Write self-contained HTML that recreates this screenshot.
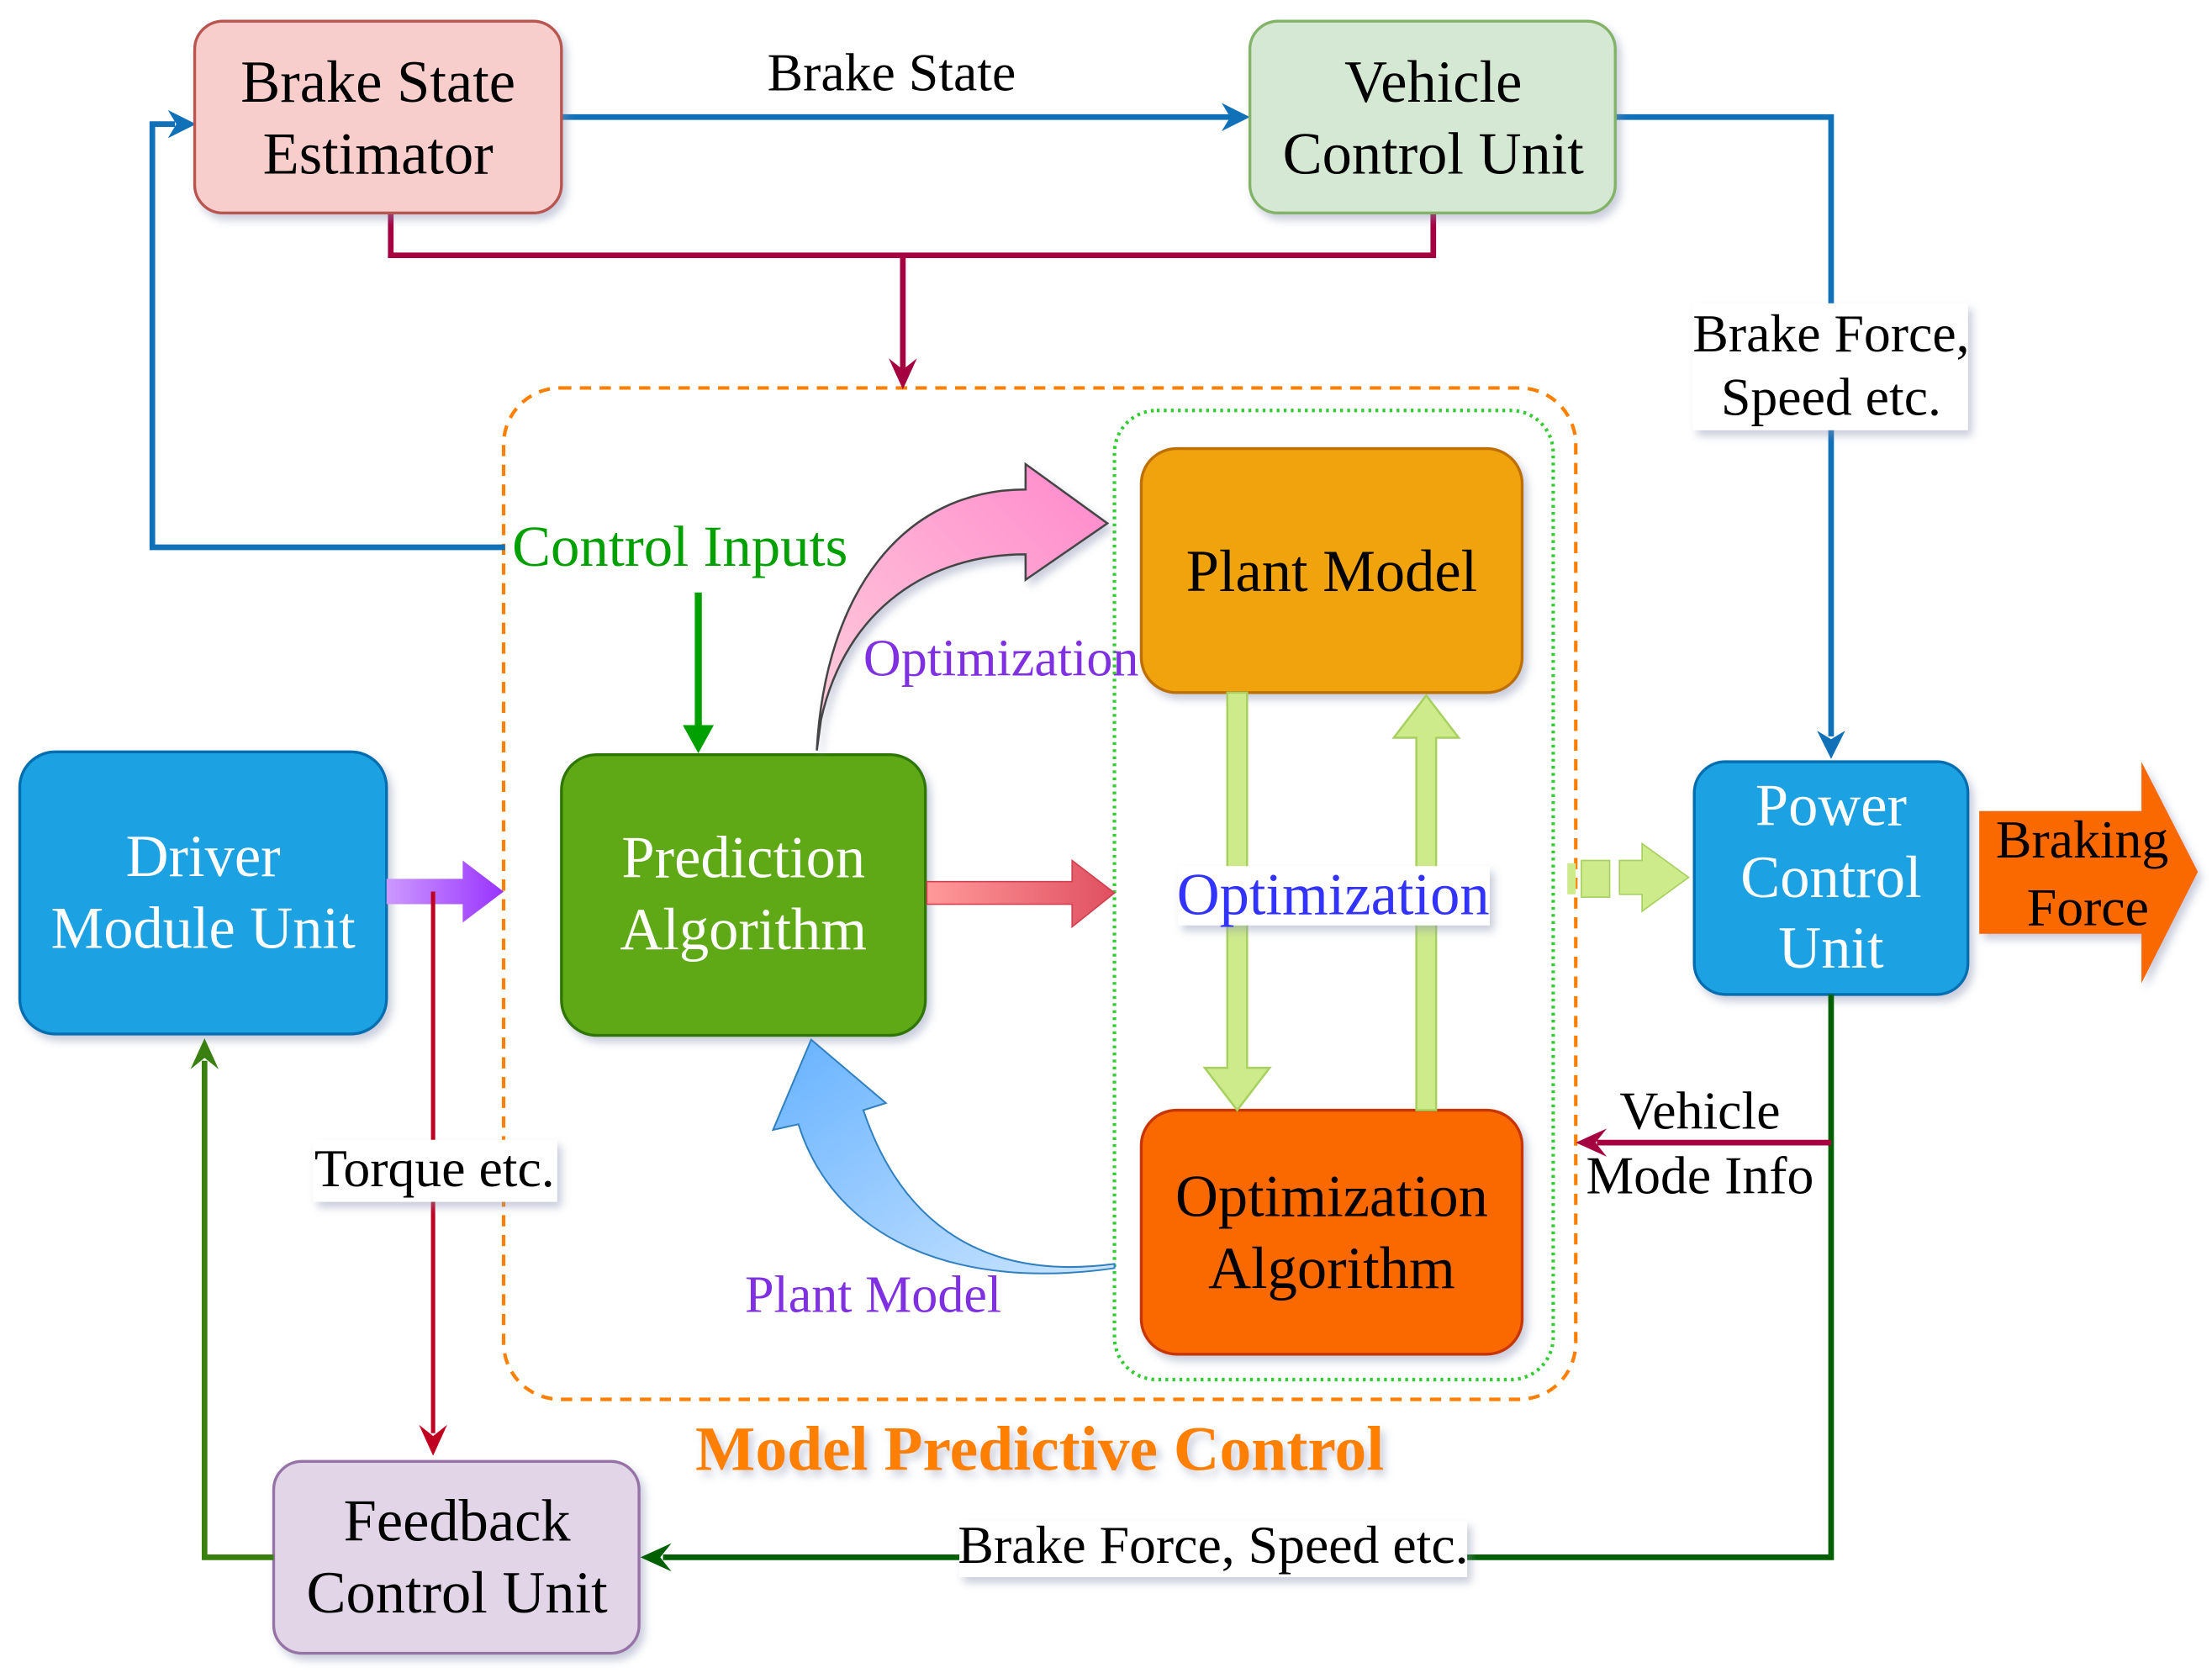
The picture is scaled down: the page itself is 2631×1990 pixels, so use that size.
<!DOCTYPE html>
<html><head><meta charset="utf-8"><style>
html,body{margin:0;padding:0;background:#fff;}
svg{display:block;}
text{font-family:"Liberation Serif",serif;}
</style></head><body>
<svg width="2631" height="1990" viewBox="0 0 1568 1186" preserveAspectRatio="none" xmlns="http://www.w3.org/2000/svg">
<defs>
<filter id="sh" x="-10%" y="-10%" width="130%" height="130%"><feDropShadow dx="3" dy="4" stdDeviation="3" flood-color="#8890b0" flood-opacity="0.45"/></filter>
<linearGradient id="pink" x1="0" y1="1" x2="1" y2="0"><stop offset="0" stop-color="#ffd0dc"/><stop offset="1" stop-color="#ff88cc"/></linearGradient>
<linearGradient id="blueg" x1="0" y1="0" x2="1" y2="1"><stop offset="0" stop-color="#66b2ff"/><stop offset="1" stop-color="#cce5ff"/></linearGradient>
<linearGradient id="redg" x1="0" y1="0" x2="1" y2="0"><stop offset="0" stop-color="#ff9999"/><stop offset="1" stop-color="#e05060"/></linearGradient>
<linearGradient id="purg" x1="0" y1="0" x2="1" y2="0"><stop offset="0" stop-color="#cc99ff"/><stop offset="1" stop-color="#9933ff"/></linearGradient>
</defs>

<rect x="357" y="275" width="760" height="717" rx="40" fill="none" stroke="#ff8000" stroke-width="2.5" stroke-dasharray="8,6"/>
<rect x="790" y="291" width="311" height="687" rx="30" fill="none" stroke="#33cc33" stroke-width="2.5" stroke-dasharray="2,3"/>

<g stroke="#1070b8" stroke-width="4" fill="none">
<path d="M398,83 H872"/>
<path d="M1145,83 H1298 V522"/>
<path d="M358,388 H108 V88 H124"/>
</g>
<path d="M886,83 L866,73 L872,83 L866,93 Z" fill="#1070b8"/>
<path d="M1298,538 L1288,518 L1298,524 L1308,518 Z" fill="#1070b8"/>
<path d="M139,88 L119,78 L125,88 L119,98 Z" fill="#1070b8"/>

<path d="M277,151 V181 H1016 V151 M640,181 V262" stroke="#a50040" stroke-width="4" fill="none"/>
<path d="M640,276 L630,254 L640,262 L650,254 Z" fill="#a50040"/>

<g filter="url(#sh)">
<rect x="138" y="15" width="260" height="136" rx="20" fill="#f8cecc" stroke="#b85450" stroke-width="2"/>
<rect x="886" y="15" width="259" height="136" rx="20" fill="#d5e8d4" stroke="#82b366" stroke-width="2"/>
<rect x="809" y="318" width="270" height="173" rx="25" fill="#f0a30a" stroke="#bd7000" stroke-width="2"/>
<rect x="809" y="787" width="270" height="173" rx="25" fill="#fa6800" stroke="#c73500" stroke-width="2"/>
<rect x="398" y="535" width="258" height="199" rx="25" fill="#60a917" stroke="#2d7600" stroke-width="2"/>
<rect x="14" y="533" width="260" height="200" rx="25" fill="#1ba1e2" stroke="#006eaf" stroke-width="2"/>
<rect x="1201" y="540" width="194" height="165" rx="22" fill="#1ba1e2" stroke="#006eaf" stroke-width="2"/>
<rect x="194" y="1036" width="259" height="136" rx="20" fill="#e1d5e7" stroke="#9673a6" stroke-width="2"/>
<path d="M1403,575 H1518 V540 L1558,618 L1518,697 V662 H1403 Z" fill="#fa6800"/>
</g>

<path d="M495,420 V520" stroke="#00a000" stroke-width="5"/>
<path d="M495,534 L484,514 L506,514 Z" fill="#00a000"/>

<path d="M274,623 H328 V610 L357,632 L328,654 V641 H274 Z" fill="url(#purg)"/>
<path d="M657,625 H760 V610 L790,633 L760,657 V641 H657 Z" fill="url(#redg)" stroke="#d04050" stroke-width="1"/>

<path d="M870,491 H884 V757 H900 L877,787 L854,757 H870 Z" fill="#cdeb8b" stroke="#a8d060" stroke-width="1.5"/>
<path d="M1004,787 H1018 V523 H1034 L1011,493 L988,523 H1004 Z" fill="#cdeb8b" stroke="#a8d060" stroke-width="1.5"/>
<rect x="1111" y="612" width="6" height="22" fill="#cdeb8b"/>
<rect x="1121" y="610" width="20" height="26" fill="#cdeb8b" stroke="#a8d060" stroke-width="1"/>
<path d="M1148,610 H1164 V598 L1197,622 L1164,646 V634 H1148 Z" fill="#cdeb8b" stroke="#a8d060" stroke-width="1"/>

<path d="M579,532 C585,420 640,347 727,347 L727,329 L785,371 L727,411 L727,393 C660,393 600,430 582,510 Z" fill="url(#pink)" stroke="#444" stroke-width="1.5" filter="url(#sh)"/>
<path d="M790,896 C700,908 640,870 612,787 L628,782 L575,737 L548,801 L566,797 C592,880 680,915 790,899 Z" fill="url(#blueg)" stroke="#3080c0" stroke-width="1.2"/>

<path d="M307,632 V1016" stroke="#c00020" stroke-width="3"/>
<path d="M307,1032 L297,1010 L307,1018 L317,1010 Z" fill="#c00020"/>

<path d="M1298,705 V1104 H470" stroke="#006000" stroke-width="4" fill="none"/>
<path d="M454,1104 L476,1094 L468,1104 L476,1114 Z" fill="#006000"/>
<path d="M194,1104 H145 V752" stroke="#3a8010" stroke-width="4" fill="none"/>
<path d="M145,736 L135,758 L145,750 L155,758 Z" fill="#3a8010"/>

<path d="M1298,810 H1132" stroke="#a50040" stroke-width="4"/>
<path d="M1117,810 L1139,800 L1131,810 L1139,820 Z" fill="#a50040"/>

<g fill="#fff" filter="url(#sh)">
<rect x="1200" y="215" width="195" height="90"/>
<rect x="222" y="808" width="173" height="44"/>
<rect x="680" y="1078" width="360" height="40"/>
<rect x="835" y="614" width="221" height="42"/>
</g>
<rect x="359" y="368" width="250" height="42" fill="#fff"/>

<g font-size="42" text-anchor="middle" fill="#000">
<text x="268" y="72">Brake State</text>
<text x="268" y="123">Estimator</text>
<text x="1016" y="72">Vehicle</text>
<text x="1016" y="123">Control Unit</text>
<text x="944" y="419">Plant Model</text>
<text x="944" y="862">Optimization</text>
<text x="944" y="913">Algorithm</text>
<text x="324" y="1092">Feedback</text>
<text x="324" y="1143">Control Unit</text>
</g>
<g font-size="42" text-anchor="middle" fill="#fff">
<text x="527" y="622">Prediction</text>
<text x="527" y="673">Algorithm</text>
<text x="144" y="621">Driver</text>
<text x="144" y="672">Module Unit</text>
<text x="1298" y="585">Power</text>
<text x="1298" y="636">Control</text>
<text x="1298" y="686">Unit</text>
</g>
<g font-size="38" fill="#000" text-anchor="middle">
<text x="1476" y="608">Braking</text>
<text x="1480" y="656">Force</text>
<text x="632" y="64">Brake State</text>
<text x="1298" y="249">Brake Force,</text>
<text x="1298" y="294">Speed etc.</text>
<text x="308" y="841">Torque etc.</text>
<text x="860" y="1108">Brake Force, Speed etc.</text>
<text x="1205" y="800">Vehicle</text>
<text x="1205" y="846">Mode Info</text>
</g>
<text x="363" y="401" font-size="41" fill="#00a000">Control Inputs</text>
<text x="612" y="479" font-size="37" fill="#7f30e0">Optimization</text>
<text x="528" y="930" font-size="37" fill="#7f30e0">Plant Model</text>
<text x="945" y="648" font-size="42" fill="#3333ff" text-anchor="middle">Optimization</text>
<text x="737" y="1042" font-size="45" font-weight="bold" fill="#ff8000" text-anchor="middle" filter="url(#sh)">Model Predictive Control</text>
</svg>
</body></html>
